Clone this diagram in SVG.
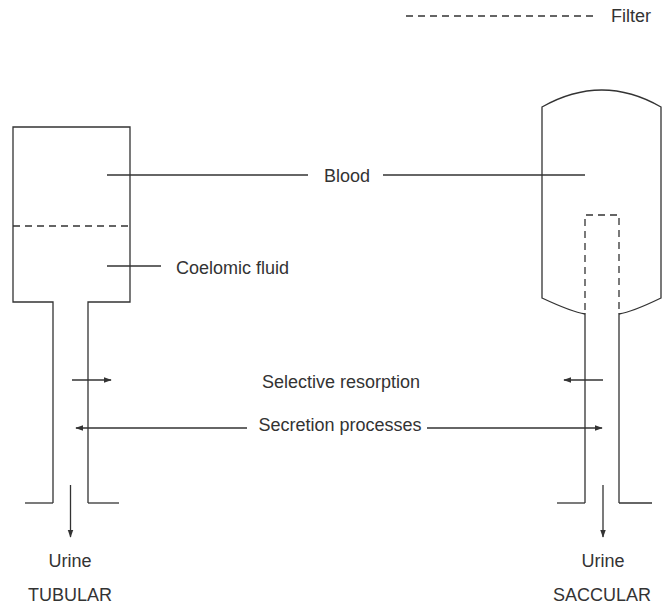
<svg xmlns="http://www.w3.org/2000/svg" width="662" height="614" viewBox="0 0 662 614">
<style>
.ln{fill:none;stroke:#333;stroke-width:1.3}
.ds{fill:none;stroke:#333;stroke-width:1.3;stroke-dasharray:7 5}
text{font-family:"Liberation Sans",Arial,sans-serif;font-size:18px;fill:#333}
</style>
<defs>
<marker id="ah" viewBox="0 0 10 10" refX="9" refY="5" markerWidth="8" markerHeight="8" markerUnits="userSpaceOnUse" orient="auto">
<path d="M0,1.5 L10,5 L0,8.5 Z" fill="#333"/>
</marker>
</defs>
<rect width="662" height="614" fill="#fff"/>
<g id="legend">
<line class="ds" x1="406" y1="16" x2="596" y2="16"/>
<text x="611" y="22">Filter</text>
</g>
<g id="tubular">
<path class="ln" d="M53,503 L53,302 L13,302 L13,127 L130,127 L130,302 L88,302 L88,503"/>
<line class="ln" x1="25" y1="503" x2="53" y2="503"/>
<line class="ln" x1="88" y1="503" x2="119" y2="503"/>
<line class="ds" x1="13" y1="226" x2="130" y2="226"/>
</g>
<g id="saccular">
<path class="ln" d="M585,314 Q572,312 542,298 L542,107 Q602,73 661,107 L661,298 Q632,312 619,314"/>
<path class="ln" d="M585,313 L585,503 M619,313 L619,503"/>
<path class="ds" d="M585,310 L585,215 L619,215 L619,310"/>
<line class="ln" x1="557" y1="503" x2="585" y2="503"/>
<line class="ln" x1="619" y1="503" x2="652" y2="503"/>
</g>
<g id="labels">
<text x="347" y="182" text-anchor="middle">Blood</text>
<text x="176" y="274">Coelomic fluid</text>
<text x="341" y="388" text-anchor="middle">Selective resorption</text>
<text x="340" y="431" text-anchor="middle">Secretion processes</text>
<text x="70" y="567" text-anchor="middle">Urine</text>
<text x="603" y="567" text-anchor="middle">Urine</text>
<text x="70" y="601" text-anchor="middle">TUBULAR</text>
<text x="602" y="601" text-anchor="middle">SACCULAR</text>
</g>
<g id="connectors">
<line class="ln" x1="107" y1="175" x2="308" y2="175"/>
<line class="ln" x1="383" y1="175" x2="585" y2="175"/>
<line class="ln" x1="107" y1="266" x2="161" y2="266"/>
<line class="ln" x1="72" y1="380" x2="111" y2="380" marker-end="url(#ah)"/>
<line class="ln" x1="603" y1="380" x2="564" y2="380" marker-end="url(#ah)"/>
<line class="ln" x1="247" y1="428" x2="76" y2="428" marker-end="url(#ah)"/>
<line class="ln" x1="427" y1="428" x2="602" y2="428" marker-end="url(#ah)"/>
<line class="ln" x1="70.5" y1="485" x2="70.5" y2="537" marker-end="url(#ah)"/>
<line class="ln" x1="603" y1="485" x2="603" y2="537" marker-end="url(#ah)"/>
</g>
</svg>
